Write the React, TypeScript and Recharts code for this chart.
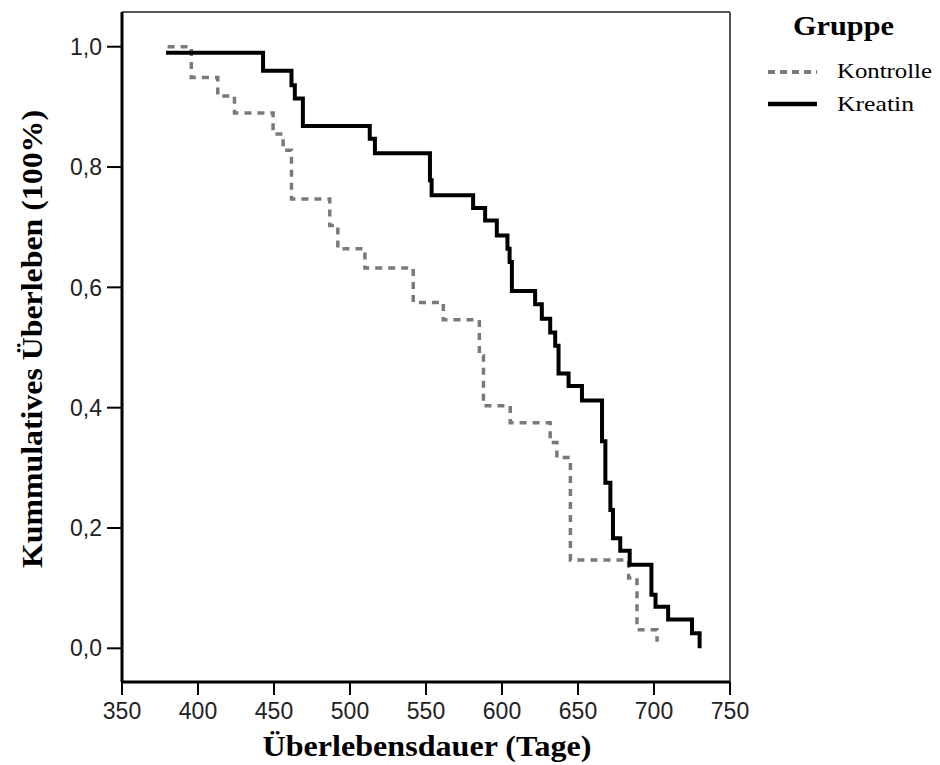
import { LineChart, Line, XAxis, YAxis, ReferenceLine, Legend } from 'recharts'

// Kaplan-Meier Schätzung
const kreatinTage = [379, 442.8, 461.5, 463.7, 469, 513, 516.4, 552.6, 553.7, 581, 588.9, 596.6, 603.6, 605, 606.5, 621.8, 626.2, 631.7, 635, 637.2, 643.8, 652.6, 665.8, 668, 671.3, 673, 677.8, 684, 698.3, 701, 709.3, 725, 730]
const kreatinWerte = [0.99, 0.96, 0.936, 0.914, 0.868, 0.847, 0.823, 0.778, 0.753, 0.732, 0.711, 0.686, 0.664, 0.642, 0.594, 0.572, 0.548, 0.525, 0.503, 0.457, 0.436, 0.412, 0.344, 0.275, 0.23, 0.183, 0.162, 0.139, 0.089, 0.069, 0.048, 0.025, 0.0]

const kontrolleTage = [380, 395.6, 413, 424, 449.4, 456, 461.5, 486.7, 492, 509.8, 541.6, 561.4, 585.1, 587.8, 605.4, 631.7, 636.1, 645, 683.3, 688.8, 702]
const kontrolleWerte = [1.0, 0.949, 0.918, 0.89, 0.855, 0.828, 0.747, 0.703, 0.664, 0.632, 0.575, 0.546, 0.486, 0.403, 0.375, 0.342, 0.317, 0.147, 0.117, 0.031, 0.011]

const xTicks = [350, 400, 450, 500, 550, 600, 650, 700, 750]
const yTicks = [0, 0.2, 0.4, 0.6, 0.8, 1.0]
const gruppen = ['Kontrolle', 'Kreatin']

const X_MIN = 350
const X_MAX = 750
const Y_MIN = -0.056
const Y_MAX = 1.0577

const kreatin = kreatinTage.map((t, i) => ({ t, s: kreatinWerte[i] }))
const kontrolle = kontrolleTage.map((t, i) => ({ t, s: kontrolleWerte[i] }))

const SERIF = '"Liberation Serif", "Times New Roman", serif'
const SANS = '"Liberation Sans", Arial, sans-serif'
const GRAU = '#7a7a7a'

function XTitle() {
  return (
    <text x={427} y={756} textAnchor="middle" fontFamily={SERIF} fontWeight="bold" fontSize={29} fill="#000"
      textLength={329} lengthAdjust="spacingAndGlyphs">
      Überlebensdauer (Tage)
    </text>
  )
}

function YTitle() {
  return (
    <text x={42} y={339} transform="rotate(-90, 42, 339)" textAnchor="middle" fontFamily={SERIF} fontWeight="bold"
      fontSize={30} fill="#000" textLength={458} lengthAdjust="spacingAndGlyphs">
      Kummulatives Überleben (100%)
    </text>
  )
}

function Gruppenlegende() {
  return (
    <svg width={180} height={130} style={{ display: 'block' }}>
      <text x={33} y={35} fontFamily={SERIF} fontWeight="bold" fontSize={27} fill="#000" textLength={101} lengthAdjust="spacingAndGlyphs">Gruppe</text>
      <line x1={8} x2={57} y1={72} y2={72} stroke={GRAU} strokeWidth={4} strokeDasharray="7 5" />
      <text x={77} y={78} fontFamily={SERIF} fontSize={21} fill="#000" textLength={95} lengthAdjust="spacingAndGlyphs">{gruppen[0]}</text>
      <line x1={8} x2={57} y1={104} y2={104} stroke="#000" strokeWidth={4.5} />
      <text x={77} y={111} fontFamily={SERIF} fontSize={21} fill="#000" textLength={77} lengthAdjust="spacingAndGlyphs">{gruppen[1]}</text>
    </svg>
  )
}

export default function App() {
  return (
    <div style={{ position: 'absolute', left: 0, top: 0, width: 940, height: 765, background: '#fff' }}>
      <LineChart width={940} height={765} margin={{ top: 12, right: 210, left: 0, bottom: 0 }}>
        <XAxis type="number" dataKey="t" domain={[X_MIN, X_MAX]} ticks={xTicks} allowDataOverflow height={83}
          axisLine={{ stroke: '#000', strokeWidth: 3 }} tickLine={{ stroke: '#000', strokeWidth: 2 }} tickSize={13} tickMargin={8}
          tick={{ fill: '#222', fontSize: 23, fontFamily: SANS }} label={<XTitle />} />
        <YAxis type="number" domain={[Y_MIN, Y_MAX]} ticks={yTicks} allowDataOverflow width={122}
          axisLine={{ stroke: '#000', strokeWidth: 3 }} tickLine={{ stroke: '#000', strokeWidth: 2 }} tickSize={15} tickMargin={5}
          tick={{ fill: '#222', fontSize: 23, fontFamily: SANS }} tickFormatter={(v: number) => v.toFixed(1).replace('.', ',')}
          label={<YTitle />} />
        <ReferenceLine y={Y_MAX} stroke="#555" strokeWidth={2} />
        <ReferenceLine x={X_MAX} stroke="#555" strokeWidth={2} />
        <Line data={kontrolle} dataKey="s" name="Kontrolle" type="stepAfter" stroke={GRAU} strokeWidth={3.5}
          strokeDasharray="7 6" dot={false} activeDot={false} isAnimationActive={false} />
        <Line data={kreatin} dataKey="s" name="Kreatin" type="stepAfter" stroke="#000" strokeWidth={4}
          dot={false} activeDot={false} isAnimationActive={false} />
        <Legend layout="horizontal" verticalAlign="middle" align="center" content={() => <Gruppenlegende />}
          wrapperStyle={{ position: 'absolute', left: 760, top: 0, width: 180, height: 130 }} />
      </LineChart>
    </div>
  )
}
